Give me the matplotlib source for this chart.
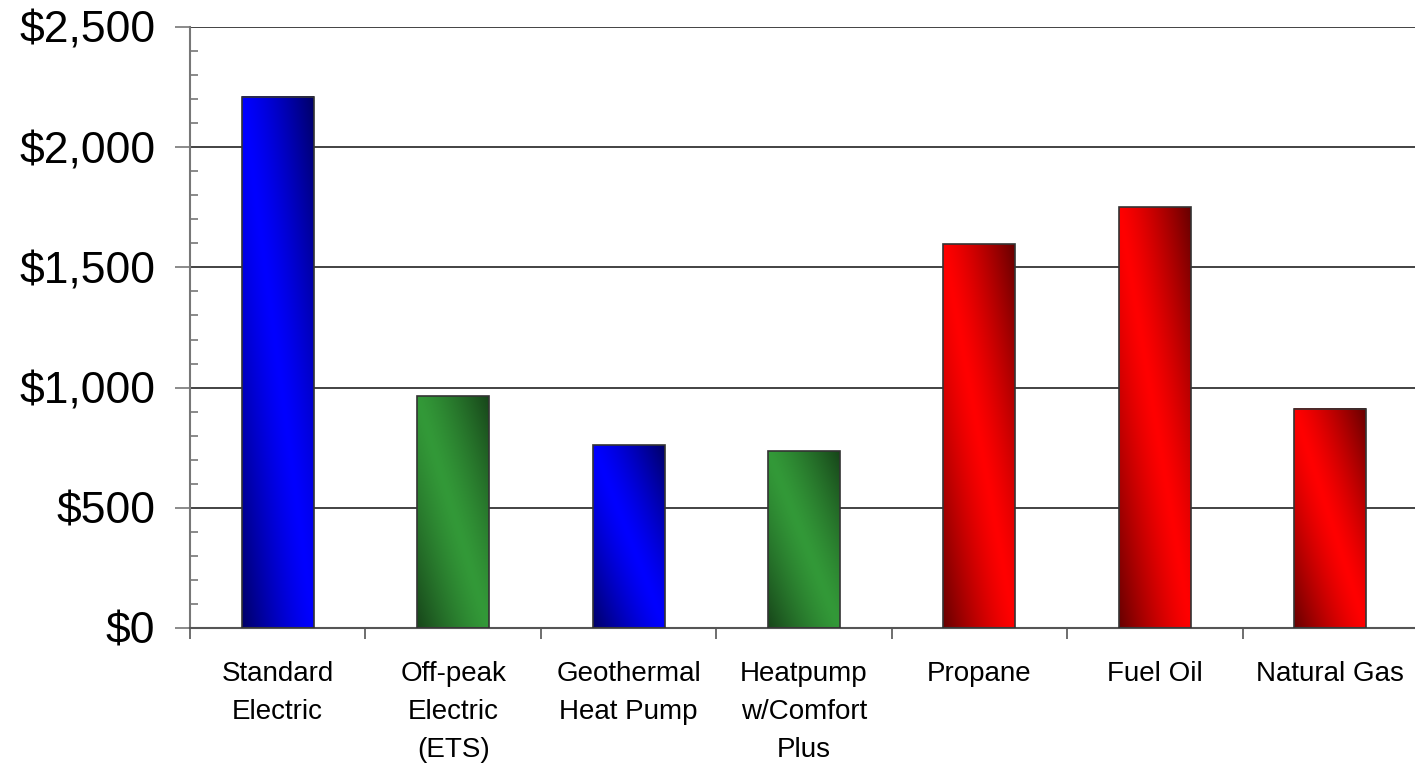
import numpy as np
import matplotlib.pyplot as plt
from matplotlib.ticker import MultipleLocator, FuncFormatter

plt.rcParams['font.family'] = ['Liberation Sans', 'DejaVu Sans']

categories = ['Standard\nElectric', 'Off-peak\nElectric\n(ETS)', 'Geothermal\nHeat Pump',
              'Heatpump\nw/Comfort\nPlus', 'Propane', 'Fuel Oil', 'Natural Gas']
costs = [2210, 965, 761, 736, 1597, 1751, 911]
groups = ['blue', 'green', 'blue', 'green', 'red', 'red', 'red']

# bright / dark colours of each gradient
palette = {
    'blue': ((0.0, 0.0, 1.0), (0.0, 0.0, 0.40)),
    'green': ((0.20, 0.60, 0.22), (0.09, 0.27, 0.10)),
    'red': ((1.0, 0.0, 0.0), (0.40, 0.0, 0.0)),
}


def gradient(bright, dark, n=200):
    # diagonal band: bright from top-left to bottom-right, dark in the other corners
    xs = np.linspace(0, 1, n)
    ys = np.linspace(0, 1, n)
    X, Y = np.meshgrid(xs, ys)
    d = np.abs(X - (1 - Y))
    t = np.clip(d, 0, 1) ** 1.3
    img = np.zeros((n, n, 3))
    for c in range(3):
        img[..., c] = bright[c] * (1 - t) + dark[c] * t
    return img


fig = plt.figure(figsize=(14.15, 7.63), dpi=100)
ax = fig.add_axes([190 / 1415, 135 / 763, 1228 / 1415, 601 / 763])

x = np.arange(len(categories))
width = 0.41
for i, (v, g) in enumerate(zip(costs, groups)):
    bright, dark = palette[g]
    ax.imshow(gradient(bright, dark), extent=(i - width / 2, i + width / 2, 0, v),
              origin='lower', aspect='auto', zorder=2, interpolation='bilinear')
    ax.bar(i, v, width=width, facecolor='none', edgecolor='#333333', linewidth=1.2, zorder=3)

ax.set_xlim(-0.5, len(categories) - 0.5)
ax.set_ylim(0, 2500)

ax.yaxis.set_major_locator(MultipleLocator(500))
ax.yaxis.set_minor_locator(MultipleLocator(100))
ax.yaxis.set_major_formatter(FuncFormatter(lambda v, p: f'${v:,.0f}'))
ax.grid(axis='y', which='major', color='#222222', linewidth=1.2, zorder=0)
ax.set_axisbelow(True)

ax.set_xticks(x)
ax.set_xticklabels(categories, fontsize=20, linespacing=1.6, va='top')
ax.set_xticks(np.arange(len(categories) + 1) - 0.5, minor=True)
ax.tick_params(axis='x', which='major', length=0, pad=24)
ax.tick_params(axis='x', which='minor', length=8, color='#555555', width=1.2)
ax.tick_params(axis='y', which='major', labelsize=32, length=11, direction='out',
               color='#777777', width=1.2, pad=14)
ax.tick_params(axis='y', which='minor', length=6, direction='in', color='#777777', width=1.2)

for s in ['top', 'right']:
    ax.spines[s].set_visible(False)
ax.spines['left'].set_color('#777777')
ax.spines['left'].set_linewidth(1.5)
ax.spines['bottom'].set_color('#555555')
ax.spines['bottom'].set_linewidth(1.5)

plt.savefig('out.png', dpi=100)
